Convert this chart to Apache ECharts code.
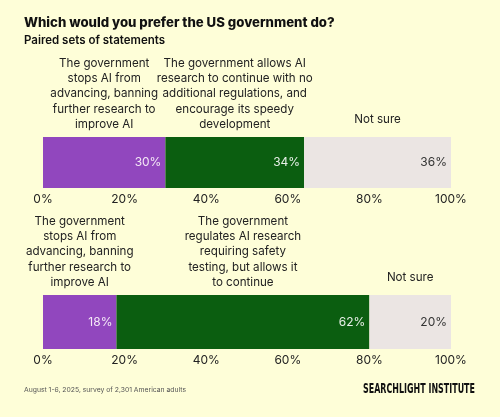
<!DOCTYPE html>
<html><head><meta charset="utf-8">
<script src="https://cdn.jsdelivr.net/npm/echarts@6/dist/echarts.min.js"></script>
<style>html,body{margin:0;padding:0;background:#fefed8;}#c{width:500px;height:417px;}</style>
</head><body><div id="c"></div>
<script>
const labels1 = ["The government\nstops AI from\nadvancing, banning\nfurther research to\nimprove AI",
  "The government allows AI\nresearch to continue with no\nadditional regulations, and\nencourage its speedy\ndevelopment",
  "Not sure"];
const values1 = [30, 34, 36];
const labels2 = ["The government\nstops AI from\nadvancing, banning\nfurther research to\nimprove AI",
  "The government\nregulates AI research\nrequiring safety\ntesting, but allows it\nto continue",
  "Not sure"];
const values2 = [18, 62, 20];
const ticks = [0, 20, 40, 60, 80, 100];

const colors = ['#9147be', '#0b5e10', '#ebe5e3'];
const valColors = ['#f4e8f6', '#e8f0e8', '#333333'];
const FONT = 'Inter, "Noto Sans", sans-serif';
const LOGO_FONT = '"DejaVu Sans Condensed", "DejaVu Sans", sans-serif';

const grids = [
  {left: 43, right: 49, top: 137, height: 51},
  {left: 43, right: 49, top: 295, height: 54}
];
const questions = [{labels: labels1, values: values1}, {labels: labels2, values: values2}];

const xAxis = grids.map((g, i) => ({
  gridIndex: i, type: 'value', min: ticks[0], max: ticks[ticks.length-1], interval: 20,
  axisLine: {show: false}, axisTick: {show: false}, splitLine: {show: false},
  axisLabel: {formatter: '{value}%', color: '#222', fontSize: 12, fontFamily: FONT, margin: 5}
}));
const yAxis = grids.map((g, i) => ({
  gridIndex: i, type: 'category', data: ['q'], show: false
}));

const series = [];
questions.forEach((q, qi) => {
  q.values.forEach((v, si) => {
    series.push({
      type: 'bar', xAxisIndex: qi, yAxisIndex: qi, stack: 'v' + qi,
      data: [v], barWidth: '100%', barGap: '-100%', silent: true,
      itemStyle: {color: colors[si]},
      label: {show: true, position: 'insideRight', distance: 4, formatter: '{c}%',
        color: valColors[si], fontSize: 12, fontFamily: FONT}
    });
  });
  q.values.forEach((v, si) => {
    series.push({
      type: 'bar', xAxisIndex: qi, yAxisIndex: qi, stack: 'l' + qi,
      data: [v], barWidth: '100%', barGap: '-100%', silent: true, z: 1,
      itemStyle: {color: 'rgba(0,0,0,0)'},
      label: {show: true, position: 'top', distance: si === 2 ? 10 : 5,
        formatter: q.labels[si], color: '#222', fontSize: 11.6, lineHeight: 15.3, fontFamily: FONT}
    });
  });
});

// measure logo text to fit its width
const logoText = 'SEARCHLIGHT INSTITUTE';
const logoSize = 14.5;
const ctx = document.createElement('canvas').getContext('2d');
ctx.font = 'bold ' + logoSize + 'px ' + LOGO_FONT;
const logoW = ctx.measureText(logoText).width;
const logoScale = 112 / logoW;

const chart = echarts.init(document.getElementById('c'), null, {renderer: 'canvas'});
chart.setOption({
  backgroundColor: '#fefed8',
  animation: false,
  title: [
    {text: 'Which would you prefer the US government do?', left: 24, top: 17, padding: 0,
      textStyle: {fontSize: 13.2, fontWeight: 800, color: '#111', fontFamily: FONT}},
    {text: 'Paired sets of statements', left: 24, top: 35, padding: 0,
      textStyle: {fontSize: 11.5, fontWeight: 600, color: '#111', fontFamily: FONT}},
    {text: 'August 1-6, 2025, survey of 2,301 American adults', left: 24, top: 386, padding: 0,
      textStyle: {fontSize: 6.8, fontWeight: 400, color: '#555', fontFamily: FONT}}
  ],
  graphic: [{
    type: 'text', x: 363, y: 389, scaleX: logoScale,
    style: {text: logoText, fill: '#111', font: 'bold ' + logoSize + 'px ' + LOGO_FONT,
      textVerticalAlign: 'middle', verticalAlign: 'middle'}
  }],
  grid: grids,
  xAxis: xAxis,
  yAxis: yAxis,
  series: series
});
</script></body></html>
